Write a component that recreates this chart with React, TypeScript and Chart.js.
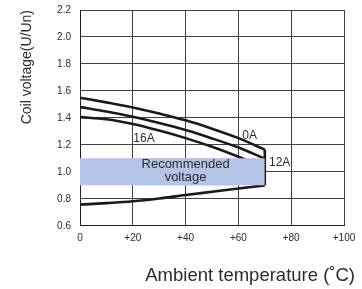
import React, { useEffect, useRef } from "react";
import { Chart, registerables } from "chart.js";

Chart.register(...registerables);

// ---- data ----
const temps = [0, 10, 20, 30, 40, 50, 60, 70];
const curve0A = [1.55, 1.515, 1.477, 1.432, 1.382, 1.32, 1.25, 1.165];
const curve12A = [1.48, 1.447, 1.408, 1.362, 1.31, 1.248, 1.18, 1.098];
const curve16A = [1.406, 1.39, 1.355, 1.306, 1.25, 1.186, 1.112, 1.031];
const lowerLimit = [0.757, 0.768, 0.782, 0.803, 0.828, 0.852, 0.876, 0.9];
const bandX = [0, 70];
const bandTop = [1.1, 1.1];
const bandBottom = [0.9, 0.9];
const xTickValues = [0, 20, 40, 60, 80, 100];
const xTickLabels = ["0", "+20", "+40", "+60", "+80", "+100"];
const yTickValues = [0.6, 0.8, 1.0, 1.2, 1.4, 1.6, 1.8, 2.0, 2.2];
const yTickLabels = ["0.6", "0.8", "1.0", "1.2", "1.4", "1.6", "1.8", "2.0", "2.2"];
const curveLabels = ["0A", "16A", "12A"];
const curveLabelX = [61.5, 20.2, 71.6];
const curveLabelY = [1.266, 1.245, 1.066];
const recLines = ["Recommended", "voltage"];
const recX = 40;
const recY = [1.052, 0.956];
const recBoxX = [20, 60];

const BAND_COLOR = "rgb(180,196,230)";
const TEXT_COLOR = "#2b2b2b";
const FONT = "'Liberation Sans', Arial, sans-serif";

const pts = (xs: number[], ys: number[]) => xs.map((x, i) => ({ x, y: ys[i] }));

const annotPlugin = {
  id: "annot",
  beforeDraw(chart: any) {
    const s: any = chart.scales.x;
    if (s && !s.__wrapped) {
      const orig = s.drawTitle.bind(s);
      s.drawTitle = function () {
        const ctx = chart.ctx;
        ctx.save();
        ctx.translate(11, 0);
        orig();
        ctx.restore();
      };
      s.__wrapped = true;
    }
  },
  afterDraw(chart: any) {
    const { ctx } = chart;
    const xs = chart.scales.x;
    const ys = chart.scales.y;
    ctx.save();
    // recommended label box
    const l = xs.getPixelForValue(recBoxX[0]) + 2;
    const r = xs.getPixelForValue(recBoxX[1]) - 2;
    const t = ys.getPixelForValue(bandTop[0]);
    const b = ys.getPixelForValue(bandBottom[0]);
    ctx.fillStyle = BAND_COLOR;
    ctx.fillRect(l, t, r - l, b - t);
    ctx.fillStyle = TEXT_COLOR;
    ctx.textBaseline = "middle";
    ctx.textAlign = "center";
    ctx.font = `13px ${FONT}`;
    recLines.forEach((txt, i) => {
      ctx.fillText(txt, xs.getPixelForValue(recX), ys.getPixelForValue(recY[i]));
    });
    ctx.textAlign = "left";
    ctx.font = `12px ${FONT}`;
    curveLabels.forEach((txt, i) => {
      ctx.fillText(txt, xs.getPixelForValue(curveLabelX[i]), ys.getPixelForValue(curveLabelY[i]));
    });
    ctx.restore();
  },
};

export default function App() {
  const ref = useRef<HTMLCanvasElement | null>(null);
  useEffect(() => {
    if (!ref.current) return;
    const lineDs = (data: any[], extra: any = {}) => ({
      data,
      borderColor: "#1a1a1a",
      borderWidth: 2.6,
      pointRadius: 0,
      fill: false,
      cubicInterpolationMode: "monotone",
      ...extra,
    });
    const chart = new Chart(ref.current, {
      type: "line",
      data: {
        datasets: [
          {
            data: pts(bandX, bandTop),
            borderWidth: 0,
            pointRadius: 0,
            backgroundColor: BAND_COLOR,
            fill: "+1",
          } as any,
          {
            data: pts(bandX, bandBottom),
            borderWidth: 0,
            pointRadius: 0,
            fill: false,
          } as any,
          lineDs(pts(temps, curve0A)),
          lineDs(pts(temps, curve12A)),
          lineDs(pts(temps, curve16A)),
          lineDs(pts(temps, lowerLimit)),
          lineDs(
            [
              { x: temps[temps.length - 1], y: lowerLimit[lowerLimit.length - 1] },
              { x: temps[temps.length - 1], y: curve0A[curve0A.length - 1] },
            ],
            { cubicInterpolationMode: "default", tension: 0 }
          ),
        ],
      },
      options: {
        responsive: false,
        animation: false,
        layout: { padding: { top: 0, right: 18, bottom: 0, left: 0 } },
        plugins: { legend: { display: false }, tooltip: { enabled: false } },
        scales: {
          x: {
            type: "linear",
            min: 0,
            max: 100,
            z: 1,
            afterBuildTicks: (s: any) => {
              s.ticks = xTickValues.map((v) => ({ value: v }));
            },
            ticks: {
              padding: 6,
              color: TEXT_COLOR,
              font: { family: FONT, size: 10 },
              maxRotation: 0,
              callback: (v: any) => xTickLabels[xTickValues.indexOf(Number(v))] ?? "",
            },
            grid: { color: "#404040", lineWidth: 1, drawTicks: false },
            border: { color: "#202020", width: 1 },
            title: {
              display: true,
              text: "Ambient temperature (˚C)",
              align: "end",
              color: TEXT_COLOR,
              font: { family: FONT, size: 18.5 },
              padding: { top: 15, bottom: 2 },
            },
          },
          y: {
            type: "linear",
            min: 0.6,
            max: 2.2,
            z: 1,
            afterBuildTicks: (s: any) => {
              s.ticks = yTickValues.map((v) => ({ value: v }));
            },
            afterFit: (s: any) => {
              s.width = 80;
              s.paddingTop = 10;
              s.paddingBottom = 6;
            },
            ticks: {
              padding: 9,
              color: TEXT_COLOR,
              font: { family: FONT, size: 10 },
              callback: (v: any) => {
                const i = yTickValues.findIndex((t) => Math.abs(t - Number(v)) < 1e-6);
                return i >= 0 ? yTickLabels[i] : "";
              },
            },
            grid: { color: "#404040", lineWidth: 1, drawTicks: false },
            border: { color: "#202020", width: 1 },
            title: {
              display: true,
              text: "Coil voltage(U/Un)",
              align: "end",
              color: TEXT_COLOR,
              font: { family: FONT, size: 14 },
              padding: { top: 19, bottom: 0 },
            },
          },
        },
      } as any,
      plugins: [annotPlugin],
    });
    return () => chart.destroy();
  }, []);
  return (
    <div style={{ position: "absolute", left: 0, top: 0, width: 362, height: 289, background: "#fff" }}>
      <canvas ref={ref} width={362} height={289} style={{ display: "block" }} />
    </div>
  );
}
